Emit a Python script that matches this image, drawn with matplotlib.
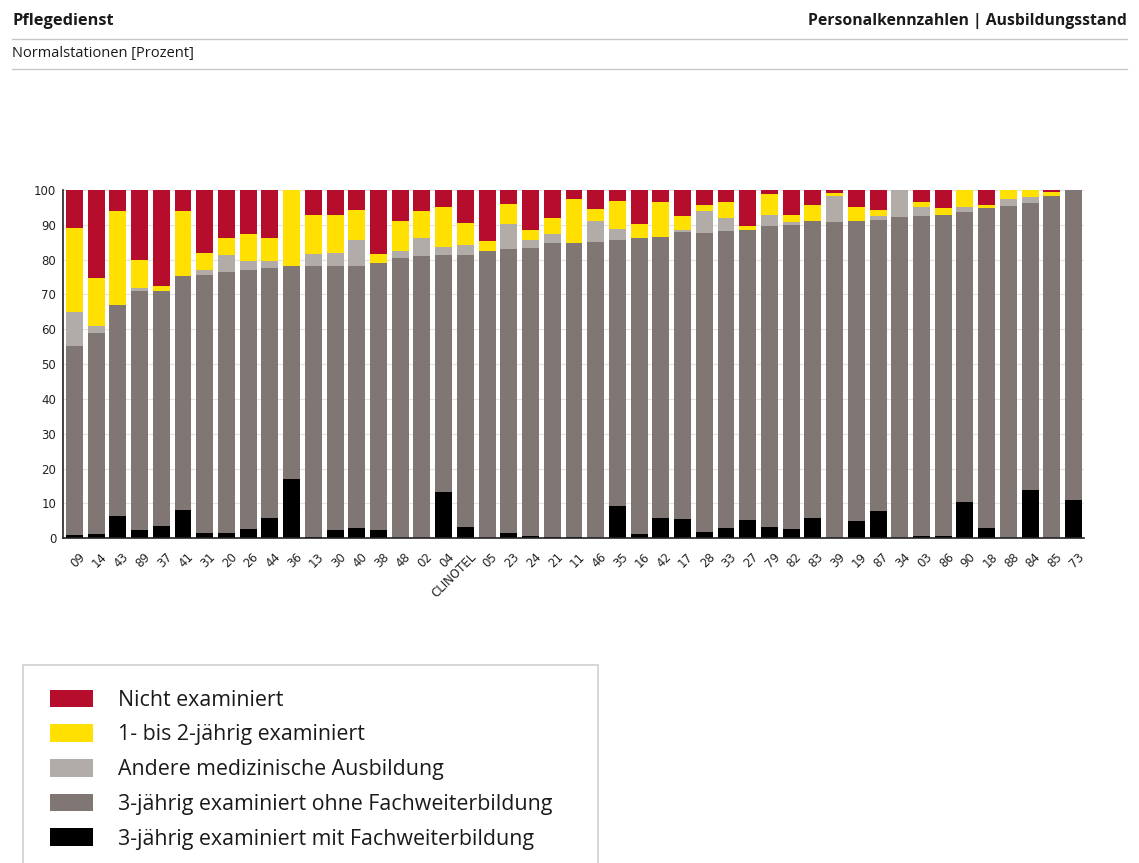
import matplotlib
matplotlib.use("Agg")
import matplotlib.pyplot as plt
import matplotlib.transforms as mtransforms
from matplotlib.lines import Line2D
from matplotlib.patches import Rectangle
import numpy as np

# Krankenhaus-Kennungen (x-Achse)
labels = ["09", "14", "43", "89", "37", "41", "31", "20", "26", "44",
          "36", "13", "30", "40", "38", "48", "02", "04", "CLINOTEL", "05",
          "23", "24", "21", "11", "46", "35", "16", "42", "17", "28",
          "33", "27", "79", "82", "83", "39", "19", "87", "34", "03",
          "86", "90", "18", "88", "84", "85", "73"]

# Anteile in Prozent, von unten nach oben gestapelt
mit_fwb = [1.0, 1.1, 6.3, 2.3, 3.6, 8.2, 1.5, 1.5, 2.6, 5.8,
           17.1, 0.4, 2.3, 3.1, 2.3, 0.0, 0.0, 13.3, 3.3, 0.0,
           1.5, 0.8, 0.4, 0.4, 0.0, 9.3, 1.1, 5.8, 5.5, 1.7,
           3.1, 5.2, 3.3, 2.8, 5.8, 0.0, 5.0, 7.7, 0.0, 0.7,
           0.7, 10.4, 2.9, 0.0, 13.9, 0.0, 10.9]
ohne_fwb = [54.3, 57.7, 60.6, 68.8, 67.5, 67.0, 74.0, 75.1, 74.5, 71.9,
            61.1, 77.8, 75.9, 75.1, 76.6, 80.6, 81.1, 68.1, 78.1, 82.6,
            81.7, 82.5, 84.4, 84.5, 85.0, 76.3, 85.1, 80.7, 82.3, 86.0,
            85.1, 83.4, 86.3, 87.2, 85.2, 90.9, 86.1, 83.7, 92.2, 91.8,
            92.0, 83.4, 92.0, 95.3, 82.4, 98.4, 89.1]
andere = [9.6, 2.2, 0.0, 0.7, 0.0, 0.0, 1.6, 4.7, 2.5, 1.9,
          0.0, 3.4, 3.8, 7.5, 0.0, 1.9, 5.2, 2.2, 2.7, 0.0,
          7.1, 2.4, 2.7, 0.0, 6.1, 3.1, 0.0, 0.0, 0.7, 6.2,
          3.8, 0.0, 3.2, 0.9, 0.0, 7.5, 0.0, 1.2, 7.8, 2.5,
          0.2, 1.4, 0.0, 2.1, 1.6, 0.0, 0.0]
ein_zwei = [24.1, 13.7, 27.2, 8.1, 1.2, 18.7, 4.9, 5.0, 7.9, 6.7,
            21.8, 11.2, 10.8, 8.5, 2.7, 8.7, 7.6, 11.6, 6.3, 2.7,
            5.8, 2.8, 4.5, 12.5, 3.5, 8.2, 3.9, 10.1, 4.0, 1.9,
            4.6, 1.0, 6.0, 1.9, 4.8, 0.8, 4.1, 1.8, 0.0, 1.5,
            1.8, 4.8, 0.8, 2.6, 2.1, 0.9, 0.0]
nicht = [11.0, 25.3, 5.9, 20.1, 27.7, 6.1, 18.0, 13.7, 12.5, 13.7,
         0.0, 7.2, 7.2, 5.8, 18.4, 8.8, 6.1, 4.8, 9.6, 14.7,
         3.9, 11.5, 8.0, 2.6, 5.4, 3.1, 9.9, 3.4, 7.5, 4.2,
         3.4, 10.4, 1.2, 7.2, 4.2, 0.8, 4.8, 5.6, 0.0, 3.5,
         5.3, 0.0, 4.3, 0.0, 0.0, 0.7, 0.0]

series = [
    ("3-jährig examiniert mit Fachweiterbildung", mit_fwb, "#000000"),
    ("3-jährig examiniert ohne Fachweiterbildung", ohne_fwb, "#807775"),
    ("Andere medizinische Ausbildung", andere, "#b2aca9"),
    ("1- bis 2-jährig examiniert", ein_zwei, "#ffe000"),
    ("Nicht examiniert", nicht, "#b50d2b"),
]

TEXTFONT = ["Open Sans", "DejaVu Sans"]
W, H = 1139, 863

fig = plt.figure(figsize=(W / 100, H / 100), dpi=100)
fig.patch.set_facecolor("white")

# Kopfzeile
fig.text(12 / W, 1 - 21 / H, "Pflegedienst", fontsize=11.8, fontweight="bold",
         family=TEXTFONT, va="center", ha="left", color="#1a1a1a")
fig.text(1127 / W, 1 - 21 / H, "Personalkennzahlen | Ausbildungsstand", fontsize=11.3,
         fontweight="bold", family=TEXTFONT, va="center", ha="right", color="#1a1a1a")
fig.text(12 / W, 1 - 53 / H, "Normalstationen [Prozent]", fontsize=10.5,
         family=TEXTFONT, va="center", ha="left", color="#1a1a1a")
for yy in (39.5, 69.5):
    fig.add_artist(Line2D([12 / W, 1127 / W], [1 - yy / H, 1 - yy / H],
                          color="#c8c8c8", lw=1.0))

ax = fig.add_axes([63.3 / W, 1 - 538.3 / H, (1084 - 63.3) / W, (538.3 - 190) / H])
x = np.arange(len(labels))
bottom = np.zeros(len(labels))
handles = {}
for name, vals, col in series:
    b = ax.bar(x, vals, bottom=bottom, width=0.78, color=col, label=name, zorder=2)
    handles[name] = b
    bottom += np.array(vals)

ax.set_xlim(-0.51, len(labels) - 0.52)
ax.set_ylim(0, 100)
ax.set_yticks(np.arange(0, 101, 10))
ax.yaxis.grid(True, color="#e3e3e3", lw=0.8, zorder=0)
ax.set_axisbelow(True)
for s in ("top", "right"):
    ax.spines[s].set_visible(False)
for s in ("left", "bottom"):
    ax.spines[s].set_color("#222222")
    ax.spines[s].set_linewidth(1.2)
ax.tick_params(axis="both", length=0, labelsize=8.5, colors="#222222")
ax.tick_params(axis="y", pad=5)
ax.tick_params(axis="x", pad=9)
ax.set_xticks(x)
ax.set_xticklabels(labels, rotation=45, ha="right", va="top", rotation_mode="anchor")
shift = mtransforms.ScaledTranslation(4 / 100, 0, fig.dpi_scale_trans)
for t in ax.get_xticklabels():
    t.set_transform(t.get_transform() + shift)

# Legende
fig.add_artist(Rectangle((23 / W, -0.05), (598 - 23) / W, 1 - 665 / H + 0.05,
                         transform=fig.transFigure, fill=False,
                         edgecolor="#d0d0d0", lw=1.2))
order = ["Nicht examiniert", "1- bis 2-jährig examiniert", "Andere medizinische Ausbildung",
         "3-jährig examiniert ohne Fachweiterbildung", "3-jährig examiniert mit Fachweiterbildung"]
leg = fig.legend([handles[n] for n in order], order, loc="upper left",
                 bbox_to_anchor=(50 / W, 1 - 689.5 / H), bbox_transform=fig.transFigure,
                 frameon=False, borderpad=0, borderaxespad=0,
                 prop={"family": TEXTFONT, "size": 15.4},
                 handlelength=2.0, handleheight=0.9, handletextpad=1.2,
                 labelspacing=0.63)
for t in leg.get_texts():
    t.set_color("#1a1a1a")

plt.savefig("out.png", dpi=100)
